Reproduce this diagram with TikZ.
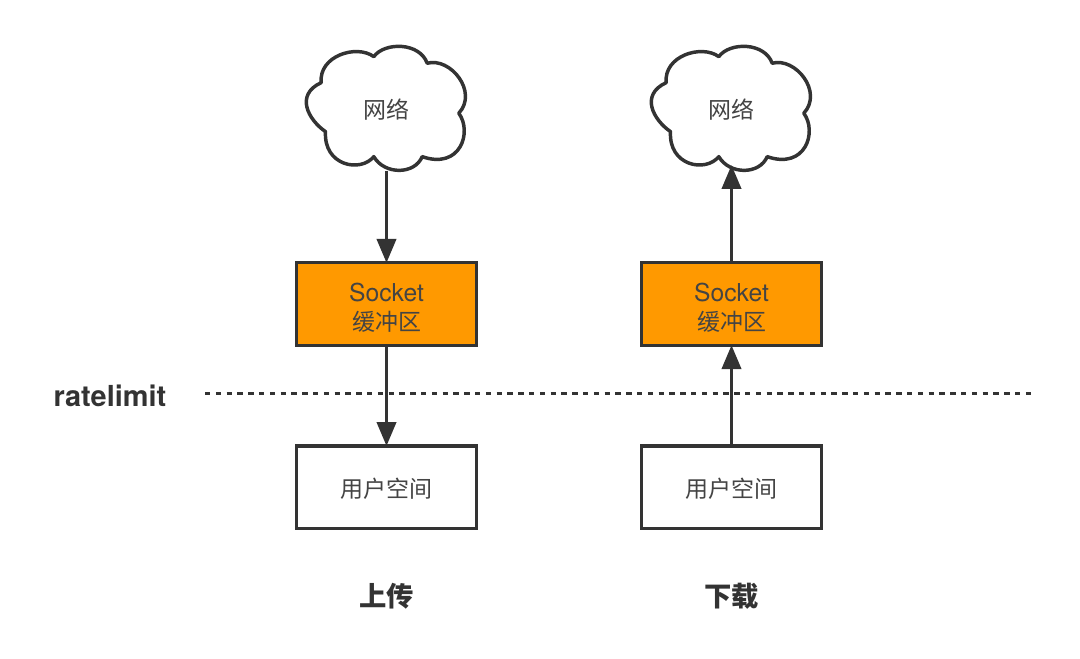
\documentclass[tikz,border=0pt]{standalone}
\usepackage{fontspec}
\setmainfont{TeX Gyre Heros}
\newfontfamily\cjk{Noto Sans CJK SC}
\usetikzlibrary{positioning,arrows.meta}
\definecolor{inkgray}{HTML}{333333}
\definecolor{textgray}{HTML}{444444}
\definecolor{bufferorange}{HTML}{FF9900}
\newcommand{\dropline}[2]{\raisebox{0pt}[\dimexpr\height+#1]{#2}}
\tikzset{
  spacebox/.style = {shape=rectangle, draw=inkgray, line width=2.6pt,
    minimum width=135pt, minimum height=62pt, inner sep=0pt, align=center,
    text=textgray, font=\fontsize{17.25}{21.75}\selectfont\cjk},
  bufferbox/.style = {spacebox, fill=bufferorange},
  netnode/.style = {shape=rectangle, minimum width=121.5pt, minimum height=91.5pt,
    inner sep=0pt, outer sep=0pt, text=textgray,
    font=\fontsize{17.25}{21.75}\selectfont\cjk},
  flow/.style = {draw=inkgray, line width=2.9pt, shorten >=-1.5pt,
    -{Triangle[length=18pt,width=14.25pt]}},
  limitline/.style = {draw=inkgray, line width=2.9pt, dash pattern=on 4.05pt off 4.05pt},
  dirlabel/.style = {text=inkgray, inner sep=0pt,
    font=\fontsize{20.5}{22}\selectfont\cjk\bfseries},
  netcloud/.pic = {
    \draw[draw=inkgray, line width=2.6pt, line join=round]
      (-65.3,-27.3) .. controls (-68,-54) and (-30,-66) .. (-12.7,-53.3)
      .. controls (-2,-68) and (33,-68) .. (40.7,-46.7)
      .. controls (64,-53) and (92,-18) .. (72.3,3.3)
      .. controls (86,22) and (74,60) .. (35.7,46.7)
      .. controls (28,65) and (-2,65) .. (-12.7,46.7)
      .. controls (-26,63) and (-63,56) .. (-61,21.7)
      .. controls (-78,10) and (-92,-15) .. cycle;
  }
}
\begin{document}
\begin{tikzpicture}[x=0.75pt, y=-0.75pt, node distance=72.75pt]
  \useasboundingbox (0,0) rectangle (1080,658);
  % upload side
  \node[bufferbox] (sockUp) at (386.5,304) {\dropline{5.5pt}{\fontsize{18.5}{21.75}\selectfont\rmfamily Socket}\\缓冲区};
  \node[spacebox, below=of sockUp] (userUp) {\dropline{3pt}{用户空间}};
  \node[netnode, above=67.5pt of sockUp] (netUp) {网络};
  \pic at (netUp) {netcloud};
  \node[dirlabel] (titleUp) at (386.5,596) {上传};
  % download side
  \node[bufferbox] (sockDown) at (731.5,304) {\dropline{5.5pt}{\fontsize{18.5}{21.75}\selectfont\rmfamily Socket}\\缓冲区};
  \node[spacebox, below=of sockDown] (userDown) {\dropline{3pt}{用户空间}};
  \node[netnode, above=67.5pt of sockDown] (netDown) {网络};
  \pic at (netDown) {netcloud};
  \node[dirlabel] (titleDown) at (731.5,596) {下载};
  % limit line
  \node[text=inkgray, inner sep=0pt, font=\fontsize{21.7}{24}\selectfont\bfseries] (limitText) at (110,396) {ratelimit};
  \coordinate (limitA) at (205,393.5);
  \coordinate (limitB) at (1031,393.5);
  \draw[limitline] (limitA) -- (limitB);
  % arrows
  \draw[flow] (netUp) -- (sockUp);
  \draw[flow] (sockUp) -- (userUp);
  \draw[flow, shorten >=-4.5pt] (sockDown) -- (netDown);
  \draw[flow] (userDown) -- (sockDown);
\end{tikzpicture}
\end{document}
